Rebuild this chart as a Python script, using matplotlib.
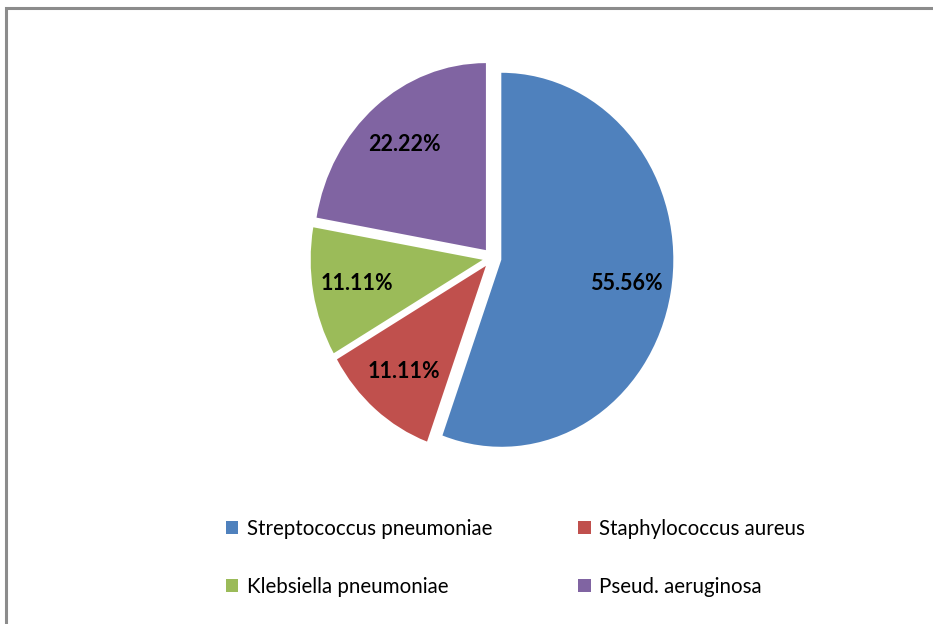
import matplotlib.pyplot as plt
from matplotlib.patches import Rectangle

organisms = ["Streptococcus pneumoniae", "Staphylococcus aureus",
             "Klebsiella pneumoniae", "Pseud. aeruginosa"]
percent = [55.56, 11.11, 11.11, 22.22]
colors = ["#4F81BD", "#C0504D", "#9BBB59", "#8064A2"]

W, H = 933, 624
fig = plt.figure(figsize=(W / 100, H / 100), dpi=100)

# gray outer frame (right/bottom edges run off the picture)
fig.patches.append(Rectangle((6 / W, -0.1), 1.2, 1 - 8 / H + 0.1,
                             transform=fig.transFigure, fill=False,
                             edgecolor="#8c8c8c", linewidth=2.2))

# pie axes placed in pixels: centre ~ (492, 258), radii ~172 x 187 px
cx, cy, rx, ry = 492, 258, 172, 187
lim = 1.2
aw, ah = 2 * lim * rx, 2 * lim * ry
ax = fig.add_axes([(cx - aw / 2) / W, 1 - (cy + ah / 2) / H, aw / W, ah / H])

wedges, texts = ax.pie(percent, colors=colors, startangle=90, counterclock=False,
                       explode=[0.055] * 4,
                       labels=[f"{p:.2f}%" for p in percent], labeldistance=0.74,
                       wedgeprops=dict(linewidth=0))
for t in texts:
    t.set_fontfamily("Lato")
    t.set_fontweight("bold")
    t.set_fontsize(15.5)
    t.set_color("black")
    t.set_ha("center")
    t.set_va("center")
ax.set_aspect("auto")
ax.set_xlim(-lim, lim)
ax.set_ylim(-lim, lim)
ax.axis("off")

order = [0, 2, 1, 3]
leg = fig.legend([wedges[i] for i in order], [organisms[i] for i in order],
                 ncol=2, loc="upper left", bbox_to_anchor=(226 / W, 1 - 519 / H),
                 frameon=False, prop=dict(family="Lato", size=14.8),
                 handlelength=0.6, handleheight=0.6, handletextpad=0.4,
                 columnspacing=4.2, labelspacing=1.85, borderaxespad=0,
                 borderpad=0)

fig.savefig("out.png", dpi=100, facecolor="white")
